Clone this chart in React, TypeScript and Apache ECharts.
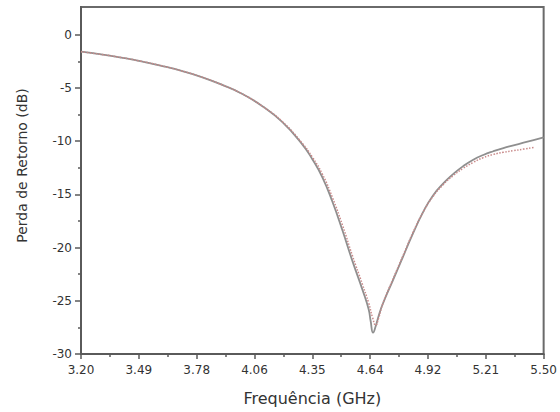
import React, { useEffect, useRef } from "react";
import * as echarts from "echarts";

const xTickLabels = ["3.20", "3.49", "3.78", "4.06", "4.35", "4.64", "4.92", "5.21", "5.50"];
const yTickValues = [-30, -25, -20, -15, -10, -5, 0];
const yMinorValues = [-27.5, -22.5, -17.5, -12.5, -7.5, -2.5];

const freqA = [3.2, 3.3, 3.4, 3.5, 3.6, 3.7, 3.8, 3.9, 4.0, 4.1, 4.2, 4.3, 4.35, 4.4, 4.45, 4.5, 4.55, 4.6, 4.63, 4.64, 4.652, 4.665, 4.68, 4.7, 4.75, 4.8, 4.85, 4.9, 4.95, 5.0, 5.05, 5.1, 5.15, 5.2, 5.25, 5.3, 5.35, 5.4, 5.45, 5.5];
const lossA = [-1.6, -1.85, -2.15, -2.5, -2.92, -3.4, -3.98, -4.7, -5.55, -6.7, -8.2, -10.3, -11.7, -13.4, -15.7, -18.4, -21.3, -24.0, -25.8, -26.9, -28.0, -27.4, -26.4, -25.3, -23.1, -20.9, -18.7, -16.7, -15.1, -14.0, -13.1, -12.35, -11.75, -11.3, -10.95, -10.65, -10.4, -10.15, -9.9, -9.65];

const freqB = [3.2, 3.3, 3.4, 3.5, 3.6, 3.7, 3.8, 3.9, 4.0, 4.1, 4.2, 4.3, 4.35, 4.4, 4.45, 4.5, 4.55, 4.6, 4.63, 4.65, 4.665, 4.68, 4.7, 4.75, 4.8, 4.85, 4.9, 4.95, 5.0, 5.05, 5.1, 5.15, 5.2, 5.25, 5.3, 5.35, 5.4, 5.45];
const lossB = [-1.6, -1.85, -2.15, -2.5, -2.92, -3.4, -3.98, -4.7, -5.55, -6.7, -8.15, -10.2, -11.5, -13.1, -15.3, -17.9, -20.8, -23.5, -25.2, -26.6, -27.3, -26.6, -25.3, -23.0, -20.8, -18.6, -16.7, -15.2, -14.1, -13.25, -12.55, -12.0, -11.55, -11.25, -11.05, -10.9, -10.75, -10.6];

const X_MIN = 3.2;
const X_MAX = 5.5;
const X_STEP = 0.2875;

export default function App() {
  const ref = useRef<HTMLDivElement>(null);
  useEffect(() => {
    if (!ref.current) return;
    const chart = echarts.init(ref.current, null, { renderer: "svg" });
    const font = "DejaVu Sans";
    const axisColor = "#5a5a5a";
    chart.setOption({
      animation: false,
      backgroundColor: "#ffffff",
      grid: {
        left: 81,
        right: 15,
        top: 7,
        bottom: 58,
        show: true,
        borderColor: "#6a6a6a",
        borderWidth: 2,
      },
      xAxis: {
        type: "value",
        min: X_MIN,
        max: X_MAX,
        interval: X_STEP,
        name: "Frequência (GHz)",
        nameLocation: "middle",
        nameGap: 36,
        nameTextStyle: { fontFamily: font, fontSize: 16, color: "#333" },
        axisLine: { show: true, onZero: false, lineStyle: { color: axisColor, width: 2 } },
        axisTick: { show: true, length: 5, lineStyle: { color: axisColor, width: 1.5 } },
        minorTick: { show: true, splitNumber: 2, length: 3, lineStyle: { color: axisColor, width: 1.5 } },
        splitLine: { show: false },
        minorSplitLine: { show: false },
        axisLabel: {
          fontFamily: font,
          fontSize: 12,
          color: "#333",
          margin: 10,
          formatter: (v: number) => xTickLabels[Math.round((v - X_MIN) / X_STEP)] ?? "",
        },
      },
      yAxis: [
        {
          type: "value",
          position: "left",
          min: -30,
          max: 2.6,
          interval: 5,
          name: "Perda de Retorno (dB)",
          nameLocation: "middle",
          nameGap: 52,
          nameRotate: 90,
          nameTextStyle: { fontFamily: font, fontSize: 14, color: "#333", padding: [0, 0, 0, 30] },
          axisLine: { show: true, onZero: false, lineStyle: { color: axisColor, width: 2 } },
          axisTick: { show: true, length: 6, customValues: yTickValues, lineStyle: { color: axisColor, width: 1.5 } },
          splitLine: { show: false },
          axisLabel: {
            fontFamily: font,
            fontSize: 12,
            color: "#333",
            margin: 9,
            customValues: yTickValues,
          },
        },
        {
          type: "value",
          position: "left",
          min: -30,
          max: 2.6,
          interval: 5,
          axisLine: { show: false, onZero: false },
          axisLabel: { show: false },
          splitLine: { show: false },
          axisTick: { show: true, length: 3, customValues: yMinorValues, lineStyle: { color: axisColor, width: 1.5 } },
        },
      ],
      series: [
        {
          type: "line",
          name: "Simulado",
          yAxisIndex: 0,
          data: freqA.map((f, i) => [f, lossA[i]]),
          smooth: 0.5,
          showSymbol: false,
          lineStyle: { color: "#8f8f8f", width: 1.8 },
        },
        {
          type: "line",
          name: "Medido",
          yAxisIndex: 0,
          data: freqB.map((f, i) => [f, lossB[i]]),
          smooth: 0.5,
          showSymbol: false,
          lineStyle: { color: "#c98a8a", width: 1.5, type: "dotted" },
        },
      ],
    });
    return () => chart.dispose();
  }, []);
  return (
    <div
      ref={ref}
      style={{ position: "absolute", left: 0, top: 0, width: 560, height: 412 }}
    />
  );
}
